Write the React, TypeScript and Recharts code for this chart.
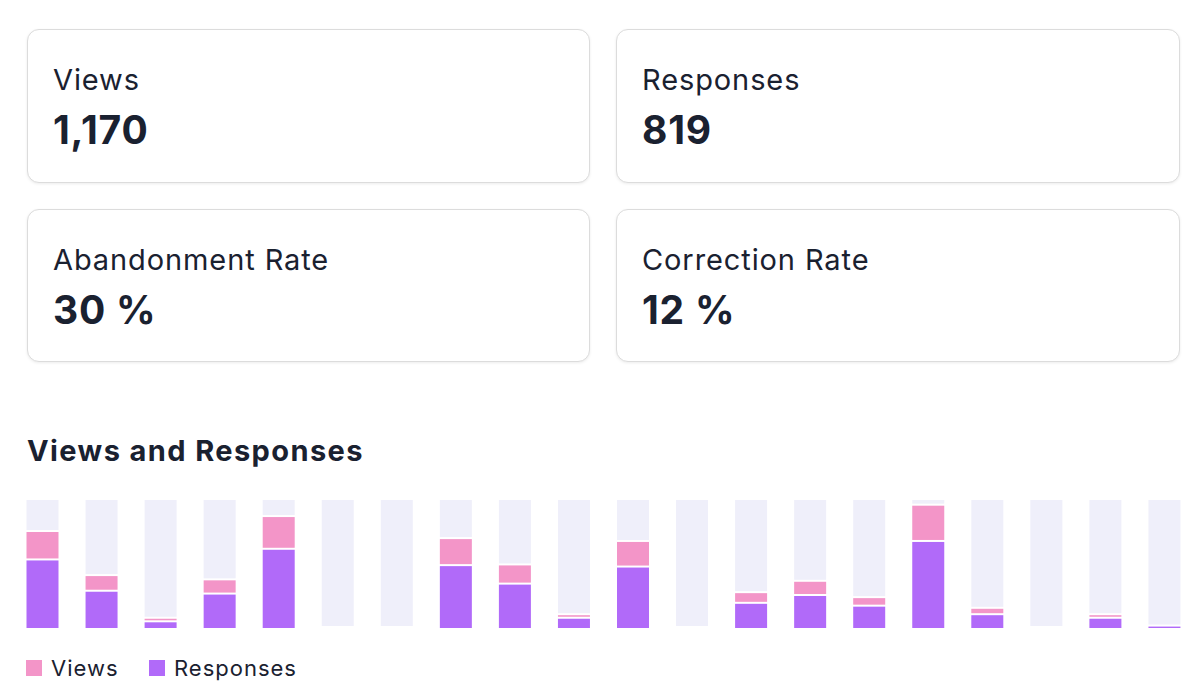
import React from "react";
import { BarChart, Bar, XAxis, YAxis } from "recharts";

const categories = ["1","2","3","4","5","6","7","8","9","10","11","12","13","14","15","16","17","18","19","20"];
const viewsValues = [135, 73, 13, 67, 156, 0, 0, 125, 88, 18, 121, 0, 49, 65, 42, 172, 27, 0, 18, 2];
const responsesValues = [95, 51, 8, 47, 110, 0, 0, 87, 61, 13, 85, 0, 34, 45, 30, 121, 18, 0, 13, 2];
const yDomainMax = 180;

const statLabels = ["Views", "Responses", "Abandonment Rate", "Correction Rate"];
const statValues = ["1,170", "819", "30 %", "12 %"];

const PINK = "#f395c8";
const PURPLE = "#b16af9";
const BG = "#efeffa";
const TEXT = "#1a2130";
const FONT = "Inter, 'Noto Sans', sans-serif";

const chartData = categories.map((c, i) => ({
  name: c,
  responses: responsesValues[i],
  viewsExtra: Math.max(0, viewsValues[i] - responsesValues[i]),
  rest: Math.max(0, yDomainMax - viewsValues[i]),
}));

const cardPos = [
  { left: 27, top: 29, width: 563, height: 154 },
  { left: 616, top: 29, width: 564, height: 154 },
  { left: 27, top: 209, width: 563, height: 153 },
  { left: 616, top: 209, width: 564, height: 153 },
];

function GapShape(props: any) {
  const { x, y, width, height, fill } = props;
  const h = Math.max(0, height - 2);
  if (!(h > 0)) return null;
  return <rect x={x} y={y} width={width} height={h} fill={fill} />;
}

function FullShape(props: any) {
  const { x, y, width, height, fill } = props;
  if (!(height > 0)) return null;
  return <rect x={x} y={y} width={width} height={height} fill={fill} />;
}

function Card({ i }: { i: number }) {
  const p = cardPos[i];
  return (
    <div
      style={{
        position: "absolute",
        left: p.left,
        top: p.top,
        width: p.width,
        height: p.height,
        boxSizing: "border-box",
        border: "1px solid #dcdcdc",
        borderRadius: 12,
        boxShadow: "0 1px 3px rgba(0,0,0,0.08)",
        background: "#fff",
      }}
    >
      <div
        style={{
          position: "absolute",
          left: 25,
          top: 35,
          fontSize: 29,
          lineHeight: "29px",
          letterSpacing: 0.9,
          fontWeight: 400,
          color: TEXT,
          whiteSpace: "nowrap",
        }}
      >
        {statLabels[i]}
      </div>
      <div
        style={{
          position: "absolute",
          left: 25,
          top: 80,
          fontSize: 39,
          lineHeight: "39px",
          letterSpacing: 0.8,
          fontWeight: 700,
          color: TEXT,
          whiteSpace: "nowrap",
        }}
      >
        {statValues[i]}
      </div>
    </div>
  );
}

const legendItems = [
  { label: "Views", color: PINK, x: 26 },
  { label: "Responses", color: PURPLE, x: 149 },
];

export default function App() {
  return (
    <div
      style={{
        position: "absolute",
        left: 0,
        top: 0,
        width: 1198,
        height: 699,
        background: "#fff",
        fontFamily: FONT,
        overflow: "hidden",
      }}
    >
      {cardPos.map((_, i) => (
        <Card key={i} i={i} />
      ))}
      <div
        style={{
          position: "absolute",
          left: 27,
          top: 436,
          fontSize: 29,
          lineHeight: "29px",
          letterSpacing: 1.4,
          fontWeight: 700,
          color: TEXT,
          whiteSpace: "nowrap",
        }}
      >
        Views and Responses
      </div>
      <div style={{ position: "absolute", left: 0, top: 490 }}>
        <BarChart
          width={1198}
          height={140}
          data={chartData}
          margin={{ top: 10, right: 4.5, bottom: 2, left: 12.5 }}
          barSize={32}
        >
          <XAxis dataKey="name" hide />
          <YAxis hide domain={[0, yDomainMax]} />
          <Bar
            dataKey="responses"
            name="Responses"
            stackId="a"
            fill={PURPLE}
            shape={FullShape}
            isAnimationActive={false}
          />
          <Bar
            dataKey="viewsExtra"
            name="Views"
            stackId="a"
            fill={PINK}
            shape={GapShape}
            isAnimationActive={false}
          />
          <Bar
            dataKey="rest"
            name="rest"
            stackId="a"
            fill={BG}
            shape={GapShape}
            isAnimationActive={false}
          />
        </BarChart>
      </div>
      {legendItems.map((it) => (
        <React.Fragment key={it.label}>
          <div
            style={{
              position: "absolute",
              left: it.x,
              top: 660,
              width: 16,
              height: 16,
              background: it.color,
            }}
          />
          <div
            style={{
              position: "absolute",
              left: it.x + 25,
              top: 657,
              fontSize: 22,
              lineHeight: "22px",
              letterSpacing: 1,
              color: TEXT,
              whiteSpace: "nowrap",
            }}
          >
            {it.label}
          </div>
        </React.Fragment>
      ))}
    </div>
  );
}
